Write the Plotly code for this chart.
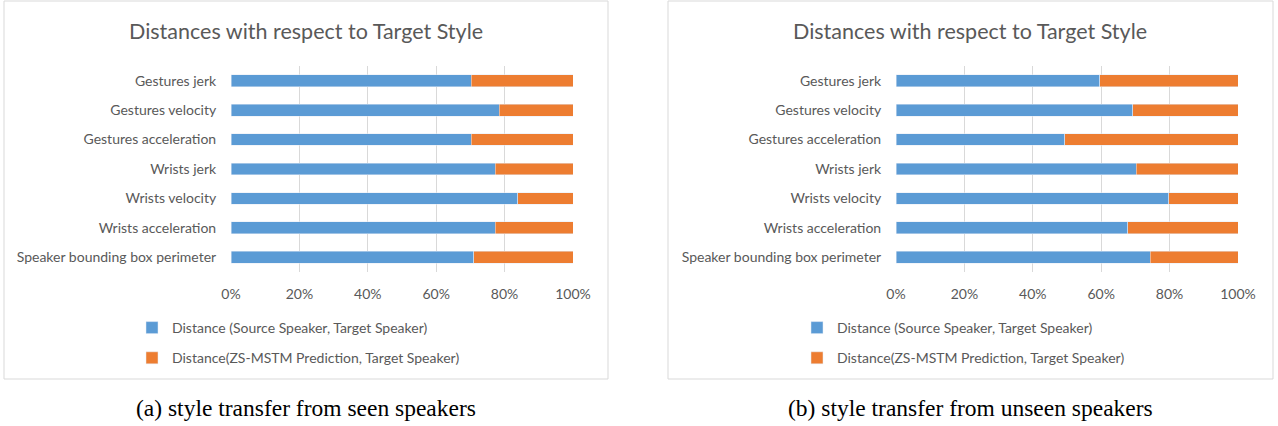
import plotly.graph_objects as go

categories = ["Speaker bounding box perimeter", "Wrists acceleration", "Wrists velocity",
              "Wrists jerk", "Gestures acceleration", "Gestures velocity", "Gestures jerk"]
seen_source = [71.0, 77.2, 83.8, 77.2, 70.3, 78.5, 70.3]
seen_pred = [29.0, 22.8, 16.2, 22.8, 29.7, 21.5, 29.7]
unseen_source = [74.3, 67.7, 79.7, 70.2, 49.4, 69.2, 59.6]
unseen_pred = [25.7, 32.3, 20.3, 29.8, 50.6, 30.8, 40.4]
x_ticks = [0, 20, 40, 60, 80, 100]
x_tick_labels = ["0%", "20%", "40%", "60%", "80%", "100%"]
series_names = ["Distance (Source Speaker, Target Speaker)",
                "Distance(ZS-MSTM Prediction, Target Speaker)"]
titles = ["Distances with respect to Target Style", "Distances with respect to Target Style"]
captions = ["(a) style transfer from seen speakers", "(b) style transfer from unseen speakers"]

W, H = 1278, 426
BLUE, ORANGE = "#5b9bd5", "#ed7d31"
GREY = "#595959"
FONT = "Lato"

def px(x):
    return x / W

def py(y):
    return 1 - y / H

fig = go.Figure()
panels = [
    (seen_source, seen_pred, "x", "y", "legend"),
    (unseen_source, unseen_pred, "x2", "y2", "legend2"),
]
for i, (src, pred, xa, ya, lg) in enumerate(panels):
    fig.add_trace(go.Bar(y=categories, x=src, orientation="h", name=series_names[0],
                         marker=dict(color=BLUE), xaxis=xa, yaxis=ya, legend=lg,
                         legendgroup=f"a{i}"))
    fig.add_trace(go.Bar(y=categories, x=pred, orientation="h", name=series_names[1],
                         marker=dict(color=ORANGE), xaxis=xa, yaxis=ya, legend=lg,
                         legendgroup=f"b{i}"))

ydom = [py(272), py(66)]
axis_common_x = dict(range=[0, 100], tickmode="array", tickvals=x_ticks, ticktext=x_tick_labels,
                     showgrid=True, gridcolor="#d9d9d9", gridwidth=1, zeroline=False,
                     showline=False, ticks="outside", ticklen=9, tickcolor="rgba(0,0,0,0)",
                     automargin=False,
                     tickfont=dict(family=FONT, size=14, color=GREY), fixedrange=True)
axis_common_y = dict(categoryorder="array", categoryarray=categories, showgrid=False,
                     showline=False, zeroline=False, ticks="outside", ticklen=11,
                     tickcolor="rgba(0,0,0,0)", automargin=False,
                     tickfont=dict(family=FONT, size=14, color=GREY), fixedrange=True)

legend_common = dict(xanchor="left", yanchor="top", orientation="v", tracegroupgap=9,
                     font=dict(family=FONT, size=14, color=GREY),
                     bgcolor="rgba(0,0,0,0)", itemclick=False)

fig.update_layout(
    width=W, height=H, margin=dict(l=0, r=0, t=0, b=0, autoexpand=False),
    paper_bgcolor="white", plot_bgcolor="white",
    barmode="stack", bargap=0.6,
    xaxis=dict(domain=[px(231), px(573)], anchor="y", **axis_common_x),
    yaxis=dict(domain=ydom, anchor="x", **axis_common_y),
    xaxis2=dict(domain=[px(896), px(1238)], anchor="y2", **axis_common_x),
    yaxis2=dict(domain=ydom, anchor="x2", **axis_common_y),
    legend=dict(x=px(132), y=py(312), **legend_common),
    legend2=dict(x=px(797), y=py(312), **legend_common),
    showlegend=True,
)

shapes = []
for (x0, x1) in [(4, 608), (668, 1273)]:
    shapes.append(dict(type="rect", xref="paper", yref="paper", x0=px(x0), x1=px(x1),
                       y0=py(379), y1=py(1), line=dict(color="#d9d9d9", width=1),
                       fillcolor="rgba(0,0,0,0)", layer="below"))
fig.update_layout(shapes=shapes)

annotations = []
for cx, t, c in [(306, titles[0], captions[0]), (970, titles[1], captions[1])]:
    annotations.append(dict(text=t, x=px(cx), y=py(31), xref="paper", yref="paper",
                            xanchor="center", yanchor="middle", showarrow=False,
                            font=dict(family=FONT, size=21.5, color=GREY)))
    annotations.append(dict(text=c, x=px(cx), y=py(408), xref="paper", yref="paper",
                            xanchor="center", yanchor="middle", showarrow=False,
                            font=dict(family="Liberation Serif", size=23.5, color="black")))
fig.update_layout(annotations=annotations)

fig.write_html("out.html", config={"displayModeBar": False},
               post_script="document.body.style.margin='0';document.body.style.overflow='hidden';")
